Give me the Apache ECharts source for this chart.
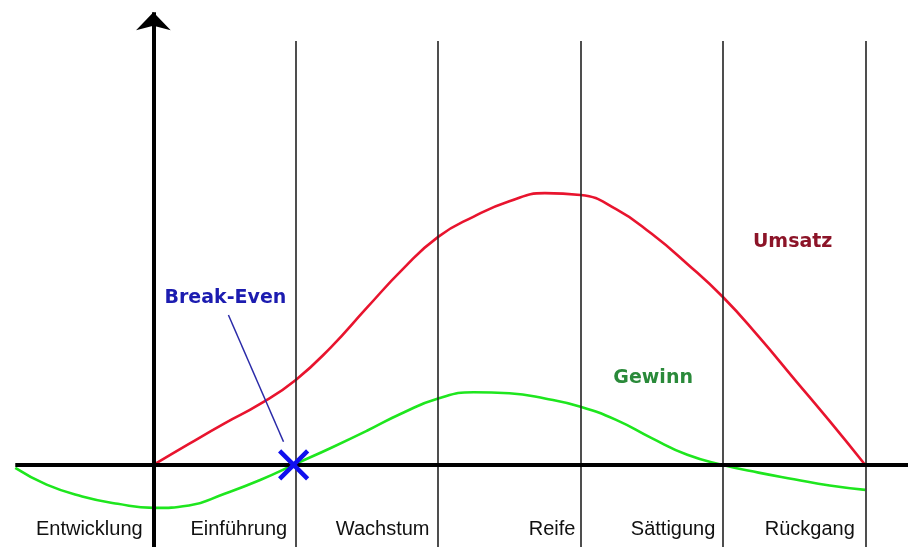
<!DOCTYPE html>
<html>
<head>
<meta charset="utf-8">
<script src="https://cdn.jsdelivr.net/npm/echarts@6/dist/echarts.min.js"></script>
<style>
  html, body { margin: 0; padding: 0; background: #fff; }
  #chart { width: 908px; height: 547px; }
</style>
</head>
<body>
<div id="chart"></div>
<script>
// phases of the product life cycle (x in phase units, 0 = y-axis)
var phases = ['Entwicklung', 'Einführung', 'Wachstum', 'Reife', 'Sättigung', 'Rückgang'];
var phaseLabelX = [-0.45, 0.6, 1.61, 2.8, 3.65, 4.61];
var phaseBounds = [1, 2, 3, 4, 5];

// Umsatz (sales)
var umsatzX = [0, 0.25, 0.5, 0.75, 1.0, 1.25, 1.5, 1.75, 2.0, 2.25, 2.5, 2.75, 3.0, 3.25, 3.5, 3.75, 4.0, 4.25, 4.5, 4.75, 5.0];
var umsatzY = [0, 7.7, 15.2, 22.3, 31.1, 43.2, 57.5, 71.5, 83.4, 90.8, 96.4, 99.4, 98.7, 93.5, 84.5, 73.5, 61.4, 47, 31.5, 16, 0];

// Gewinn (profit)
var gewinnX = [-0.97, -0.75, -0.5, -0.25, 0, 0.25, 0.5, 0.75, 1.0, 1.25, 1.5, 1.75, 2.0, 2.25, 2.5, 2.75, 3.0, 3.25, 3.5, 3.75, 4.0, 4.25, 4.5, 4.75, 5.0];
var gewinnY = [-1.1, -7.2, -11.5, -14.2, -15.7, -14.8, -10.5, -5.5, 0.4, 6.3, 12.5, 19, 24.3, 26.6, 26.2, 24.3, 21.3, 16.5, 9.8, 3.7, 0, -2.8, -5.2, -7.5, -9.1];

var breakEven = [0.985, 0];

var dom = document.getElementById('chart');
var myChart = echarts.init(dom);

function pairs(xs, ys) {
    return xs.map(function (x, i) { return [x, ys[i]]; });
}

var plainLine = { symbol: 'none', label: { show: false }, silent: true, animation: false };

var option = {
    animation: false,
    grid: { left: 11, right: 0, top: 0, bottom: 0 },
    xAxis: { type: 'value', min: -1, max: 5.3, show: false },
    yAxis: { type: 'value', min: -30, max: 170, show: false },
    series: [
        {
            // phase borders
            type: 'line', data: [], z: 1,
            markLine: Object.assign({}, plainLine, {
                lineStyle: { color: '#222', width: 1.6, type: 'solid', opacity: 1 },
                data: phaseBounds.map(function (b) {
                    return [{ coord: [b, -30] }, { coord: [b, 155] }];
                })
            })
        },
        {
            name: 'Umsatz', type: 'line', smooth: 0.5, symbol: 'none', z: 3,
            lineStyle: { color: '#e8142e', width: 2.6 },
            data: pairs(umsatzX, umsatzY)
        },
        {
            name: 'Gewinn', type: 'line', smooth: 0.5, symbol: 'none', z: 3,
            lineStyle: { color: '#1ee61e', width: 2.6 },
            data: pairs(gewinnX, gewinnY)
        },
        {
            // axes
            type: 'line', data: [], z: 4,
            markLine: Object.assign({}, plainLine, {
                lineStyle: { color: '#000', width: 4, type: 'solid', opacity: 1 },
                data: [
                    [{ coord: [-0.97, 0] }, { coord: [5.3, 0] }],
                    [{ coord: [0, -30], symbol: 'none' }, { coord: [0, 165.5], symbol: 'arrow', symbolSize: [26, 18] }]
                ]
            })
        },
        {
            // Break-Even pointer
            type: 'line', data: [], z: 4,
            markLine: Object.assign({}, plainLine, {
                lineStyle: { color: '#2a2aa8', width: 1.5, type: 'solid', opacity: 1 },
                data: [[{ coord: [0.527, 54.8] }, { coord: [0.914, 8.5] }]]
            })
        },
        {
            type: 'scatter', z: 5, silent: true,
            symbol: 'path://M0,0 L10,10 M10,0 L0,10',
            symbolSize: 28,
            itemStyle: { color: 'none', borderColor: '#1010ee', borderWidth: 4.5, opacity: 1 },
            data: [breakEven]
        },
        {
            // text labels
            type: 'scatter', symbolSize: 0, z: 6, silent: true,
            itemStyle: { opacity: 1 },
            label: {
                show: true, position: 'inside', formatter: '{b}',
                fontFamily: 'DejaVu Sans', fontWeight: 'bold', fontSize: 19
            },
            data: [
                { name: 'Break-Even', value: [0.506, 61.1], label: { color: '#1c1cb0' } },
                { name: 'Umsatz', value: [4.49, 81.5], label: { color: '#8c1428' } },
                { name: 'Gewinn', value: [3.51, 31.8], label: { color: '#2a8a3a' } }
            ]
        },
        {
            type: 'scatter', symbolSize: 0, z: 6, silent: true,
            itemStyle: { opacity: 1 },
            label: {
                show: true, position: 'inside', formatter: '{b}',
                fontFamily: 'Liberation Sans', fontSize: 20, color: '#111'
            },
            data: phases.map(function (p, i) {
                return { name: p, value: [phaseLabelX[i], -23.6] };
            })
        }
    ]
};

if (option && typeof option === 'object') {
    myChart.setOption(option);
}
</script>
</body>
</html>
